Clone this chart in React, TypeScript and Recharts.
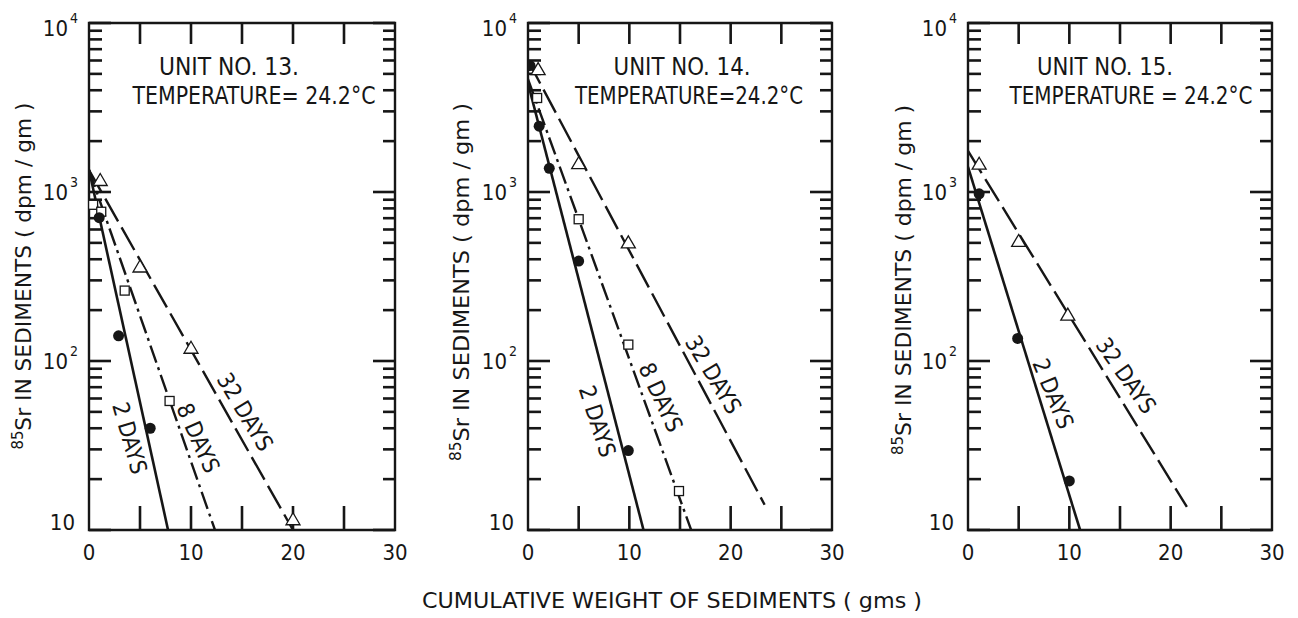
import React from "react";
import { ComposedChart, Line, Scatter, XAxis, YAxis, ReferenceArea, ReferenceDot, ReferenceLine } from "recharts";

const FONT = "'DejaVu Sans Condensed', 'Liberation Sans Narrow', 'DejaVu Sans', sans-serif";
const INK = "#161616";

// axes
const xTicks = [0, 5, 10, 15, 20, 25, 30];
const xInner = [5, 10, 15, 20, 25];
const decades = [10, 100, 1000, 10000];
const yTicks = [
  10, 20, 30, 40, 50, 60, 70, 80, 90,
  100, 200, 300, 400, 500, 600, 700, 800, 900,
  1000, 2000, 3000, 4000, 5000, 6000, 7000, 8000, 9000,
  10000,
];

type Pair = [number, number];

// unit 13 : measured points [gms, dpm/gm]
const u13Day2: Pair[] = [[1, 705], [2.9, 141], [6, 40]];
const u13Day8: Pair[] = [[0.4, 840], [1.2, 764], [3.5, 261], [7.9, 58]];
const u13Day32: Pair[] = [[1.1, 1170], [5, 360], [10, 119], [20, 11.5]];
// unit 13 : fitted lines (end points)
const u13Fit2: Pair[] = [[0, 1350], [7.75, 10]];
const u13Fit8: Pair[] = [[0, 1350], [12.35, 10]];
const u13Fit32: Pair[] = [[0, 1350], [20, 10]];

// unit 14
const u14Day2: Pair[] = [[0.2, 5600], [1.1, 2450], [2.1, 1380], [5, 390], [9.9, 29.5]];
const u14Day8: Pair[] = [[0.9, 3600], [5, 690], [9.9, 125], [14.9, 17]];
const u14Day32: Pair[] = [[1, 5300], [5, 1470], [9.9, 500]];
const u14Fit2: Pair[] = [[0, 4400], [11.4, 10]];
const u14Fit8: Pair[] = [[0, 4650], [16.1, 10]];
const u14Fit32: Pair[] = [[0, 6000], [23.35, 14.1]];

// unit 15
const u15Day2: Pair[] = [[1.1, 975], [4.9, 136], [10, 19.5]];
const u15Day32: Pair[] = [[1.1, 1460], [5, 510], [9.85, 187]];
const u15Fit2: Pair[] = [[0, 1410], [11.06, 10]];
const u15Fit32: Pair[] = [[0, 1750], [21.6, 13.7]];

const toRows = (pairs: Pair[]) => pairs.map(([x, y]) => ({ x, y }));

const PLOT_TOP = 23;
const PLOT_H = 507;
const AXIS_W = 80;
const DECADE_PX = PLOT_H / 3;

function YTick(props: any) {
  const { x, y, payload } = props;
  const v = payload.value as number;
  const exp = Math.round(Math.log10(v));
  if (v === 10) {
    return <text x={x - 14} y={y} textAnchor="end" fontSize={22} fill={INK}>10</text>;
  }
  return (
    <g>
      <text x={x - 21} y={y + (exp === 4 ? 13 : 8)} textAnchor="end" fontSize={22} fill={INK}>10</text>
      <text x={x - 19} y={y + (exp === 4 ? 0 : -5)} fontSize={14} fill={INK}>{exp}</text>
    </g>
  );
}

function XTick(props: any) {
  const { x, y, payload } = props;
  const v = payload.value as number;
  if (v % 10 !== 0) return <g />;
  return <text x={x} y={y + 30} textAnchor="middle" fontSize={22} fill={INK}>{v}</text>;
}

const Dot = (p: any) => <circle cx={p.cx} cy={p.cy} r={5.5} fill={INK} />;
const Square = (p: any) => (
  <rect x={p.cx - 4.5} y={p.cy - 4.5} width={9} height={9} fill="#fff" stroke={INK} strokeWidth={1.3} />
);
const Triangle = (p: any) => (
  <path
    d={`M${p.cx},${p.cy - 7} L${p.cx + 7},${p.cy + 5} L${p.cx - 7},${p.cy + 5} Z`}
    fill="#fff"
    stroke={INK}
    strokeWidth={1.3}
  />
);

type Tag = { text: string; x: number; y: number; angle: number };
type Seg = { key: string; a: { x: number; y: number }; b: { x: number; y: number } };

// inward tick segments on all four sides, sized in pixels and turned into data units
function tickSegments(plotW: number): Seg[] {
  const ux = 30 / plotW;
  const segs: Seg[] = [];
  yTicks.forEach((v) => {
    const major = decades.includes(v);
    segs.push({ key: "l" + v, a: { x: 0, y: v }, b: { x: (major ? 22 : 13) * ux, y: v } });
    segs.push({ key: "r" + v, a: { x: 30, y: v }, b: { x: 30 - (major ? 22 : 12) * ux, y: v } });
  });
  xInner.forEach((v) => {
    segs.push({ key: "b" + v, a: { x: v, y: 10 }, b: { x: v, y: 10 * Math.pow(10, 24 / DECADE_PX) } });
    segs.push({ key: "t" + v, a: { x: v, y: 10000 }, b: { x: v, y: 10000 / Math.pow(10, 21 / DECADE_PX) } });
  });
  return segs;
}

function Panel(props: {
  left: number;
  plotW: number;
  day2: Pair[];
  day8?: Pair[];
  day32: Pair[];
  fit2: Pair[];
  fit8?: Pair[];
  fit32: Pair[];
  tags: Tag[];
}) {
  const { left, plotW, day2, day8, day32, fit2, fit8, fit32, tags } = props;
  const segs = tickSegments(plotW);
  return (
    <div style={{ position: "absolute", left: left - AXIS_W, top: 0 }}>
      <ComposedChart
        width={AXIS_W + plotW + 20}
        height={618}
        margin={{ top: PLOT_TOP, right: 20, bottom: 0, left: 0 }}
      >
        <XAxis
          type="number"
          dataKey="x"
          domain={[0, 30]}
          ticks={xTicks}
          interval={0}
          allowDataOverflow
          axisLine={false}
          tickLine={false}
          tickSize={0}
          tickMargin={0}
          height={618 - PLOT_TOP - PLOT_H}
          tick={(p: any) => <XTick {...p} />}
        />
        <YAxis
          type="number"
          dataKey="y"
          scale="log"
          domain={[10, 10000]}
          ticks={decades}
          interval={0}
          allowDataOverflow
          axisLine={false}
          tickLine={false}
          tickSize={0}
          tickMargin={0}
          width={AXIS_W}
          tick={(p: any) => <YTick {...p} />}
        />
        {segs.map((s) => (
          <ReferenceLine key={s.key} segment={[s.a, s.b]} stroke={INK} strokeWidth={2.6} ifOverflow="visible" />
        ))}
        <ReferenceArea x1={0} x2={30} y1={10} y2={10000} fill="none" stroke={INK} strokeWidth={2.4} />
        <Line data={toRows(fit32)} dataKey="y" stroke={INK} strokeWidth={2.4} strokeDasharray="26 7" dot={false} isAnimationActive={false} />
        {fit8 && (
          <Line data={toRows(fit8)} dataKey="y" stroke={INK} strokeWidth={2.4} strokeDasharray="18 5 3 5" dot={false} isAnimationActive={false} />
        )}
        <Line data={toRows(fit2)} dataKey="y" stroke={INK} strokeWidth={2.6} dot={false} isAnimationActive={false} />
        <Scatter data={toRows(day32)} shape={Triangle} isAnimationActive={false} />
        {day8 && <Scatter data={toRows(day8)} shape={Square} isAnimationActive={false} />}
        <Scatter data={toRows(day2)} shape={Dot} isAnimationActive={false} />
        {tags.map((t) => (
          <ReferenceDot
            key={t.text}
            x={t.x}
            y={t.y}
            r={0}
            shape={(p: any) => (
              <text
                x={p.cx}
                y={p.cy}
                transform={`rotate(${t.angle} ${p.cx} ${p.cy})`}
                textAnchor="middle"
                dominantBaseline="central"
                fontSize={23}
                fill={INK}
              >
                {t.text}
              </text>
            )}
          />
        ))}
      </ComposedChart>
    </div>
  );
}

function YTitle({ x, cy, len }: { x: number; cy: number; len: number }) {
  return (
    <text
      transform={`translate(${x} ${cy}) rotate(-90)`}
      textAnchor="middle"
      fontSize={22}
      fill={INK}
      textLength={len}
      lengthAdjust="spacingAndGlyphs"
    >
      <tspan fontSize={15} dy={-8}>85</tspan>
      <tspan dy={8}>Sr  IN SEDIMENTS  ( dpm / gm )</tspan>
    </text>
  );
}

function Caption({ cx, y, w, text }: { cx: number; y: number; w: number; text: string }) {
  return (
    <text x={cx - w / 2} y={y} fontSize={24} fill={INK} textLength={w} lengthAdjust="spacingAndGlyphs">
      {text}
    </text>
  );
}

export default function App() {
  return (
    <div style={{ position: "absolute", left: 0, top: 0, width: 1298, height: 618, background: "#fff", fontFamily: FONT, overflow: "hidden" }}>
      <Panel
        left={89}
        plotW={306}
        day2={u13Day2}
        day8={u13Day8}
        day32={u13Day32}
        fit2={u13Fit2}
        fit8={u13Fit8}
        fit32={u13Fit32}
        tags={[
          { text: "2 DAYS", x: 4.0, y: 35, angle: 74 },
          { text: "8 DAYS", x: 10.7, y: 35, angle: 66 },
          { text: "32 DAYS", x: 15.3, y: 50, angle: 59 },
        ]}
      />
      <Panel
        left={528}
        plotW={304}
        day2={u14Day2}
        day8={u14Day8}
        day32={u14Day32}
        fit2={u14Fit2}
        fit8={u14Fit8}
        fit32={u14Fit32}
        tags={[
          { text: "2 DAYS", x: 6.85, y: 44, angle: 72 },
          { text: "8 DAYS", x: 13.1, y: 61, angle: 65 },
          { text: "32 DAYS", x: 18.3, y: 83, angle: 59 },
        ]}
      />
      <Panel
        left={968}
        plotW={304}
        day2={u15Day2}
        day32={u15Day32}
        fit2={u15Fit2}
        fit32={u15Fit32}
        tags={[
          { text: "2 DAYS", x: 8.4, y: 64, angle: 68 },
          { text: "32 DAYS", x: 15.6, y: 82, angle: 55 },
        ]}
      />
      <svg width={1298} height={618} style={{ position: "absolute", left: 0, top: 0, pointerEvents: "none" }}>
        <YTitle x={31} cy={276} len={347} />
        <YTitle x={469} cy={282} len={358} />
        <YTitle x={911} cy={280} len={350} />
        <Caption cx={229} y={75} w={140} text="UNIT NO. 13." />
        <Caption cx={254} y={104} w={243} text="TEMPERATURE= 24.2°C" />
        <Caption cx={682} y={75} w={137} text="UNIT NO. 14." />
        <Caption cx={689} y={104} w={228} text="TEMPERATURE=24.2°C" />
        <Caption cx={1105} y={75} w={136} text="UNIT NO. 15." />
        <Caption cx={1131} y={104} w={243} text="TEMPERATURE = 24.2°C" />
        <text x={422} y={608} fontSize={22} fill={INK} textLength={500} lengthAdjust="spacingAndGlyphs">
          CUMULATIVE  WEIGHT  OF  SEDIMENTS  ( gms )
        </text>
      </svg>
    </div>
  );
}
